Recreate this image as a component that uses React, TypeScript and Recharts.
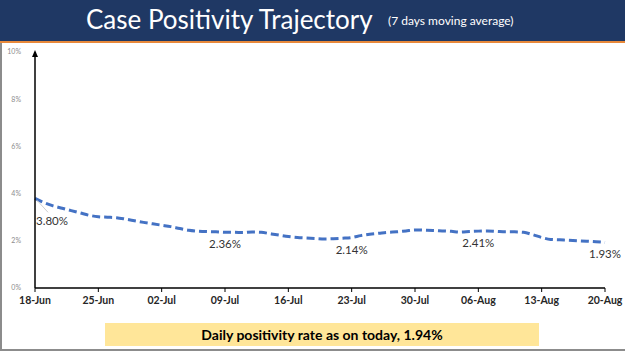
import { LineChart, Line, XAxis, YAxis, LabelList } from 'recharts'

// daily 7-day moving average positivity (%) from 18-Jun to 20-Aug
const positivity = [
  3.8, 3.62, 3.48, 3.38, 3.28, 3.18, 3.08, // 18-24 Jun
  3.02, 3.0, 2.98, 2.92, 2.85, 2.78, 2.72, // 25 Jun - 01 Jul
  2.66, 2.6, 2.52, 2.45, 2.41, 2.39, 2.38, // 02-08 Jul
  2.36, 2.36, 2.35, 2.37, 2.36, 2.3, 2.24, // 09-15 Jul
  2.18, 2.14, 2.12, 2.1, 2.08, 2.09, 2.11, // 16-22 Jul
  2.14, 2.22, 2.28, 2.32, 2.36, 2.38, 2.42, // 23-29 Jul
  2.46, 2.45, 2.44, 2.42, 2.4, 2.37, 2.39, // 30 Jul - 05 Aug
  2.41, 2.42, 2.4, 2.38, 2.38, 2.36, 2.26, // 06-12 Aug
  2.14, 2.06, 2.04, 2.02, 2.0, 1.98, 1.96, // 13-19 Aug
  1.93, // 20 Aug
]

const tickLabels = ['18-Jun', '25-Jun', '02-Jul', '09-Jul', '16-Jul', '23-Jul', '30-Jul', '06-Aug', '13-Aug', '20-Aug']
const yTicks = [0, 2, 4, 6, 8, 10]
const labelledDays = [0, 21, 35, 49, 63]

const data = positivity.map((v, i) => ({ day: i, value: v }))
const xTicks = tickLabels.map((_, i) => i * 7)

const font = 'Lato, "Open Sans", sans-serif'

function PointLabel(props: any) {
  const { x, y, index, value } = props
  if (!labelledDays.includes(index)) return null
  const text = `${Number(value).toFixed(2)}%`
  if (index === 0) {
    return (
      <g>
        <line x1={x + 2} y1={y + 2} x2={x + 13} y2={y + 14} stroke="#cfcfcf" strokeWidth={1} />
        <text x={x + 1} y={y + 27} fontSize={11.5} fill="#333" fontFamily={font}>
          {text}
        </text>
      </g>
    )
  }
  const dy = index === 35 ? 17 : 16
  return (
    <text x={x} y={y + dy} fontSize={11.5} fill="#333" fontFamily={font} textAnchor="middle">
      {text}
    </text>
  )
}

export default function App() {
  return (
    <div
      style={{
        position: 'absolute',
        left: 0,
        top: 0,
        width: 625,
        height: 351,
        background: '#fff',
        overflow: 'hidden',
        fontFamily: font,
      }}
    >
      <div
        style={{
          position: 'absolute',
          left: 0,
          top: 0,
          width: 625,
          height: 41,
          background: '#1f3864',
          borderBottom: '2px solid #e8893a',
          color: '#fff',
          whiteSpace: 'nowrap',
        }}
      >
        <span style={{ position: 'absolute', left: 86, top: 3, fontSize: 26 }}>Case Positivity Trajectory</span>
        <span style={{ position: 'absolute', left: 388, top: 13, fontSize: 12 }}>(7 days moving average)</span>
      </div>
      <div style={{ position: 'absolute', left: 0, top: 43, width: 2, height: 308, background: '#8c8c8c' }} />
      <div style={{ position: 'absolute', left: 0, top: 349, width: 625, height: 2, background: '#8c8c8c' }} />

      <div style={{ position: 'absolute', left: 0, top: 0 }}>
        <LineChart width={625} height={351} data={data} margin={{ top: 52, right: 20, bottom: 33, left: 5 }}>
          <XAxis
            dataKey="day"
            type="number"
            domain={[0, 63]}
            ticks={xTicks}
            tickFormatter={(v: number) => tickLabels[v / 7]}
            axisLine={{ stroke: '#000', strokeWidth: 1.5 }}
            tickLine={{ stroke: '#000' }}
            tickSize={4}
            tickMargin={5}
            height={30}
            interval={0}
            tick={{ fontSize: 10.5, fill: '#262626', fontWeight: 700, fontFamily: font }}
          />
          <YAxis
            domain={[0, 10]}
            ticks={yTicks}
            tickFormatter={(v: number) => `${v}%`}
            width={30}
            axisLine={{ stroke: '#000', strokeWidth: 1.5 }}
            tickLine={false}
            tickMargin={8}
            tick={{ fontSize: 7, fill: '#8c8c8c', fontFamily: font }}
          />
          <Line
            dataKey="value"
            type="monotone"
            stroke="#4472c4"
            strokeWidth={3}
            strokeDasharray="8 4"
            dot={false}
            isAnimationActive={false}
          >
            <LabelList dataKey="value" content={<PointLabel />} />
          </Line>
        </LineChart>
      </div>
      <svg style={{ position: 'absolute', left: 0, top: 0 }} width={625} height={70}>
        <polygon points="35,50 32,57 38,57" fill="#000" />
      </svg>

      <div
        style={{
          position: 'absolute',
          left: 105,
          top: 323,
          width: 434,
          height: 23,
          background: '#ffe699',
          textAlign: 'center',
          lineHeight: '23px',
          fontSize: 14,
          fontWeight: 700,
          color: '#000',
        }}
      >
        Daily positivity rate as on today, 1.94%
      </div>
    </div>
  )
}
